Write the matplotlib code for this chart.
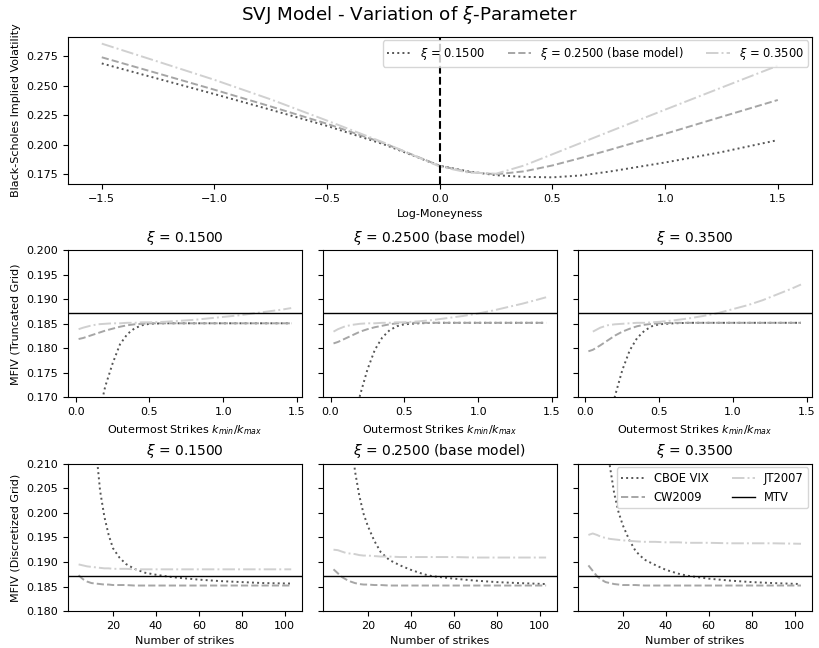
import numpy as np
import matplotlib
matplotlib.use("Agg")
import matplotlib.pyplot as plt
from matplotlib.gridspec import GridSpec

# smile for the three xi values
xi_labels = [r'$\xi$ = 0.1500', r'$\xi$ = 0.2500 (base model)', r'$\xi$ = 0.3500']
log_m = [-1.5, -1.25, -1.0, -0.75, -0.5, -0.25, 0.0, 0.125, 0.25, 0.375, 0.5, 0.625, 0.75, 1.0, 1.25, 1.5]
iv_15 = [0.2690, 0.2560, 0.2430, 0.2297, 0.2160, 0.2005, 0.1822, 0.1775, 0.1742, 0.1728, 0.1724, 0.1740, 0.1772, 0.1850, 0.1938, 0.2040]
iv_25 = [0.2742, 0.2605, 0.2467, 0.2325, 0.2178, 0.2015, 0.1822, 0.1770, 0.1750, 0.1775, 0.1825, 0.1888, 0.1955, 0.2093, 0.2237, 0.2380]
iv_35 = [0.2858, 0.2705, 0.2551, 0.2385, 0.2205, 0.2020, 0.1815, 0.1765, 0.1755, 0.1825, 0.1920, 0.2015, 0.2110, 0.2298, 0.2485, 0.2671]

# truncated grid: MFIV vs outermost strikes
k_out = [0.02, 0.05, 0.1, 0.15, 0.2, 0.25, 0.3, 0.35, 0.4, 0.45, 0.5, 0.6, 0.7, 0.8, 0.9, 1.0, 1.1, 1.2, 1.3, 1.4, 1.46]
nan = np.nan
vixT_15 = [nan, nan, nan, 0.1655, 0.1722, 0.1769, 0.1808, 0.1829, 0.1841, 0.1847, 0.1850] + [0.1851] * 10
vixT_25 = [nan, nan, nan, 0.1640, 0.1705, 0.1757, 0.1797, 0.1822, 0.1837, 0.1845, 0.1849, 0.1851] + [0.1852] * 9
vixT_35 = [nan, nan, nan, 0.1638, 0.1703, 0.1756, 0.1796, 0.1821, 0.1836, 0.1845, 0.1849, 0.1851] + [0.1852] * 9
cwT_15 = [0.1819, 0.1821, 0.1826, 0.1831, 0.1836, 0.1840, 0.1844, 0.1847, 0.1849, 0.1850, 0.1851] + [0.1851] * 10
cwT_25 = [0.1810, 0.1813, 0.1820, 0.1827, 0.1834, 0.1839, 0.1843, 0.1846, 0.1849, 0.1851, 0.1852] + [0.1852] * 10
cwT_35 = [0.1794, 0.1797, 0.1806, 0.1816, 0.1826, 0.1834, 0.1840, 0.1845, 0.1848, 0.1850, 0.1851] + [0.1852] * 10
jtT_15 = [0.1839, 0.1842, 0.1846, 0.1849, 0.1850, 0.1851, 0.1851, 0.1852, 0.1852, 0.1853, 0.1853,
          0.1854, 0.1856, 0.1858, 0.1861, 0.1864, 0.1867, 0.1871, 0.1875, 0.1879, 0.1882]
jtT_25 = [0.1834, 0.1839, 0.1845, 0.1848, 0.1850, 0.1851, 0.1851, 0.1852, 0.1852, 0.1853, 0.1853,
          0.1855, 0.1858, 0.1862, 0.1866, 0.1871, 0.1877, 0.1884, 0.1891, 0.1899, 0.1904]
jtT_35 = [nan, 0.1834, 0.1842, 0.1847, 0.1849, 0.1850, 0.1851, 0.1852, 0.1852, 0.1853, 0.1854,
          0.1857, 0.1861, 0.1866, 0.1872, 0.1880, 0.1888, 0.1898, 0.1910, 0.1922, 0.1930]

# discretized grid: MFIV vs number of strikes
n_strikes = [4, 6, 8, 10, 12, 14, 16, 18, 20, 23, 26, 30, 35, 40, 46, 50, 60, 70, 80, 90, 103]
vixD_15 = [nan, nan, nan, nan, 0.2135, 0.2045, 0.1992, 0.1955, 0.1928, 0.1909, 0.1896, 0.1886, 0.1878,
           0.1874, 0.1870, 0.1868, 0.1864, 0.1861, 0.1859, 0.1857, 0.1856]
vixD_25 = [nan, nan, nan, nan, 0.2165, 0.2085, 0.2035, 0.1998, 0.1973, 0.1943, 0.1920, 0.1904, 0.1893,
           0.1884, 0.1875, 0.1871, 0.1866, 0.1862, 0.1859, 0.1857, 0.1855]
vixD_35 = [nan, nan, nan, nan, 0.2170, 0.2095, 0.2040, 0.2002, 0.1975, 0.1945, 0.1922, 0.1905, 0.1894,
           0.1884, 0.1876, 0.1872, 0.1866, 0.1862, 0.1859, 0.1857, 0.1855]
jtD_15 = [0.1895, 0.1893, 0.1891, 0.1890, 0.1889, 0.1888, 0.1887, 0.1887, 0.1886, 0.1886, 0.1886] + [0.1885] * 10
jtD_25 = [0.1925, 0.1924, 0.1921, 0.1918, 0.1917, 0.1916, 0.1914, 0.1913, 0.1913, 0.1912, 0.1911,
          0.1911, 0.1910, 0.1910, 0.1910, 0.1910, 0.1910, 0.1909, 0.1909, 0.1909, 0.1909]
jtD_35 = [0.1955, 0.1958, 0.1955, 0.1951, 0.1949, 0.1947, 0.1946, 0.1945, 0.1944, 0.1943, 0.1942,
          0.1941, 0.1941, 0.1940, 0.1940, 0.1939, 0.1939, 0.1938, 0.1938, 0.1938, 0.1937]
cwD_15 = [0.1873, 0.1865, 0.1860, 0.1857, 0.1856, 0.1855, 0.1854, 0.1854, 0.1853, 0.1853, 0.1853] + [0.1852] * 10
cwD_25 = [0.1885, 0.1877, 0.1869, 0.1864, 0.1860, 0.1857, 0.1855, 0.1854, 0.1854, 0.1853, 0.1853] + [0.1852] * 10
cwD_35 = [0.1893, 0.1882, 0.1871, 0.1864, 0.1859, 0.1857, 0.1855, 0.1854, 0.1853, 0.1853, 0.1853] + [0.1852] * 10
mtv = 0.1871

c_dot = '#555555'
c_dash = '#a6a6a6'
c_dd = '#d0d0d0'
lw = 1.4

plt.rcParams['font.size'] = 8
plt.rcParams['xtick.labelsize'] = 8
plt.rcParams['ytick.labelsize'] = 8
plt.rcParams['axes.labelsize'] = 8
plt.rcParams['axes.titlesize'] = 10

fig = plt.figure(figsize=(8.19, 6.48), dpi=100)
fig.text(0.5, 0.977, r'SVJ Model - Variation of $\xi$-Parameter', ha='center', va='center', fontsize=13.2)

ax = fig.add_axes([0.083, 0.716, 0.908, 0.227])
ax.plot(log_m, iv_15, ':', color=c_dot, lw=lw, label=xi_labels[0])
ax.plot(log_m, iv_25, '--', color=c_dash, lw=lw, label=xi_labels[1])
ax.plot(log_m, iv_35, '-.', color=c_dd, lw=lw, label=xi_labels[2])
ax.axvline(0, color='black', ls='--', lw=1.5)
ax.set_yticks([0.175, 0.2, 0.225, 0.25, 0.275])
ax.set_xlabel('Log-Moneyness')
ax.set_ylabel('Black-Scholes Implied Volatility')
ax.legend(loc='upper right', ncol=3, fontsize=8.3, borderaxespad=0.3)

gs = GridSpec(2, 3, figure=fig, left=0.083, right=0.991, bottom=0.057, top=0.614,
              wspace=0.09, hspace=0.45)

trunc = [(vixT_15, cwT_15, jtT_15), (vixT_25, cwT_25, jtT_25), (vixT_35, cwT_35, jtT_35)]
disc = [(vixD_15, cwD_15, jtD_15), (vixD_25, cwD_25, jtD_25), (vixD_35, cwD_35, jtD_35)]

for i in range(3):
    a = fig.add_subplot(gs[0, i])
    vix, cw, jt = trunc[i]
    a.plot(k_out, vix, ':', color=c_dot, lw=lw)
    a.plot(k_out, cw, '--', color=c_dash, lw=lw)
    a.plot(k_out, jt, '-.', color=c_dd, lw=lw)
    a.axhline(mtv, color='black', lw=1)
    a.set_ylim(0.170, 0.200)
    a.set_yticks(np.arange(0.170, 0.2001, 0.005))
    a.set_xticks([0.0, 0.5, 1.0, 1.5])
    a.set_title(xi_labels[i])
    a.set_xlabel('Outermost Strikes $k_{min}/k_{max}$')
    if i == 0:
        a.set_ylabel('MFIV (Truncated Grid)')
    else:
        a.set_yticklabels([])

    b = fig.add_subplot(gs[1, i])
    vix, cw, jt = disc[i]
    l1, = b.plot(n_strikes, vix, ':', color=c_dot, lw=lw, label='CBOE VIX')
    l2, = b.plot(n_strikes, cw, '--', color=c_dash, lw=lw, label='CW2009')
    l3, = b.plot(n_strikes, jt, '-.', color=c_dd, lw=lw, label='JT2007')
    l4 = b.axhline(mtv, color='black', lw=1, label='MTV')
    b.set_ylim(0.180, 0.210)
    b.set_yticks(np.arange(0.180, 0.2101, 0.005))
    b.set_xticks([20, 40, 60, 80, 100])
    b.set_title(xi_labels[i])
    b.set_xlabel('Number of strikes')
    if i == 0:
        b.set_ylabel('MFIV (Discretized Grid)')
    else:
        b.set_yticklabels([])
    if i == 2:
        b.legend(handles=[l1, l2, l3, l4], loc='upper right', ncol=2, fontsize=8.3,
                 borderaxespad=0.3)

fig.savefig('out.png', dpi=100)
